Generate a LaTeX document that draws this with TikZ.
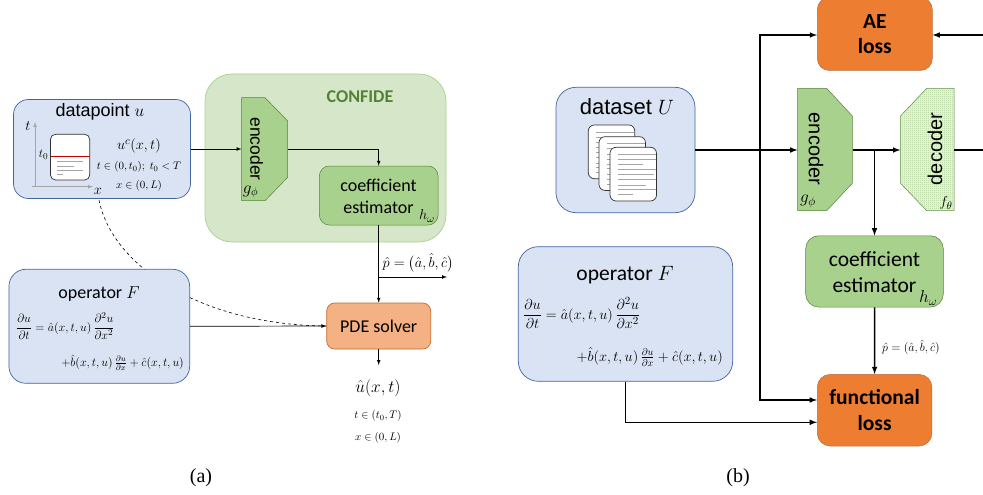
\documentclass[tikz,border=0pt]{standalone}
\usepackage{amsmath}
\usepackage{amssymb}
\usepackage{fontspec}
\setmainfont{Liberation Serif}
\setsansfont{Liberation Sans}
\newfontfamily\calibri{Carlito}
\usepackage{tikz}
\usetikzlibrary{positioning,patterns,backgrounds,arrows}
\definecolor{boxblue}{HTML}{DAE3F3}
\definecolor{edgeblue}{HTML}{41659F}
\definecolor{confidegreen}{HTML}{D5E7C8}
\definecolor{edgegreen}{HTML}{A9D18E}
\definecolor{coefgreen}{HTML}{A9D18E}
\definecolor{darkgreen}{HTML}{548235}
\definecolor{solverorange}{HTML}{F4B183}
\definecolor{edgeorange}{HTML}{C9692B}
\definecolor{lossorange}{HTML}{ED7D31}
\definecolor{paleline}{HTML}{A6A6A6}
\definecolor{redline}{HTML}{C00000}
\definecolor{decoderpale}{HTML}{EEF5E8}
\pgfdeclarepatternformonly{fine dots}{\pgfpointorigin}{\pgfpoint{2pt}{2pt}}{\pgfpoint{2pt}{2pt}}{
    \pgfpathrectangle{\pgfpointorigin}{\pgfpoint{1pt}{1pt}}
    \pgfpathrectangle{\pgfpoint{1pt}{1pt}}{\pgfpoint{1pt}{1pt}}
    \pgfusepath{fill}
}
\begin{document}
\begin{tikzpicture}[x=1pt,y=-1pt]
        \tikzstyle{blue box}=[draw=edgeblue,fill=boxblue,line width=0.7pt,inner sep=0pt]
        \tikzstyle{green box}=[draw=darkgreen,fill=coefgreen,line width=0.5pt,inner sep=0pt]
        \tikzstyle{coder node}=[inner sep=0pt]
        \tikzstyle{title a}=[font=\calibri\fontsize{18}{22}\selectfont,align=center]
        \tikzstyle{title b}=[font=\calibri\fontsize{21.5}{26}\selectfont,align=center]
        \tikzstyle{loss text}=[font=\calibri\bfseries\fontsize{21.5}{25.5}\selectfont,align=center]
        \tikzstyle{coder a}=[font=\sffamily\fontsize{17.5}{20}\selectfont,rotate=-90]
        \tikzstyle{coder b}=[font=\sffamily\fontsize{20}{22}\selectfont,rotate=-90]
        \tikzstyle{small math}=[font=\fontsize{11}{13}\selectfont]
        \tikzstyle{thin arrow}=[draw=black,line width=0.7pt,-latex]
        \tikzstyle{thick arrow}=[draw=black,line width=1.5pt,-latex]
        \tikzstyle{mini page}=[draw=black!80,fill=white,line width=0.7pt,rounded corners=5pt]
        \useasboundingbox (0,0) rectangle (983,495);

        % (a)
        \node[blue box,rounded corners=15pt,minimum width=177pt,minimum height=99pt] (Datapoint) at (102,149) {};
        \node[font=\sffamily\fontsize{18}{20}\selectfont] (DatapointTitle) at (100,112) {datapoint $u$};
        \node[inner sep=0pt,font=\fontsize{14}{16}\selectfont] (AxisT) at (28,126) {$t$};
        \node[inner sep=0pt,font=\fontsize{14}{16}\selectfont] (AxisX) at (98,191) {$x$};
        \coordinate (Origin) at (35,186.7);
        \draw[paleline,line width=0.7pt] (32,186.7) -- (Origin);
        \draw[paleline,line width=0.7pt,-latex] (Origin) -- (35,122);
        \draw[paleline,line width=0.7pt,-latex] (Origin) -- (93,186.7);
        \draw[mini page] (50.5,134.3) rectangle (89.7,180);
        \draw[redline,line width=1.3pt] (50.5,156.7) -- (89.7,156.7);
        \foreach \y/\x in {161.7/82.7,166/74,170/82.7,174/63}
            \draw[paleline,line width=0.7pt] (56.7,\y) -- (\x,\y);
        \node[inner sep=0pt,font=\fontsize{13}{15}\selectfont] (TZero) at (43.5,155) {$t_0$};
        \node[font=\fontsize{15}{17}\selectfont] (UContext) at (139,146) {$u^c(x,t)$};
        \node[small math] (UContextT) at (139,167) {$t\in(0,t_0);\;t_0<T$};
        \node[small math] (UContextX) at (139,186) {$x\in(0,L)$};

        \node[draw=edgegreen,fill=confidegreen,line width=0.7pt,rounded corners=27pt,minimum width=241pt,minimum height=168pt,inner sep=0pt] (Confide) at (325.5,158) {};
        \node[font=\calibri\bfseries\fontsize{18}{20}\selectfont,text=darkgreen] (ConfideTitle) at (360,96.5) {CONFIDE};
        \draw[green box] (241.7,97.7) -- (265,97.7) -- (287.7,121) -- (287.7,177.3) -- (265,200.7) -- (241.7,200.7) -- cycle;
        \node[coder node,minimum width=46pt,minimum height=103pt] (EncoderA) at (264.7,149) {};
        \node[coder a] (EncoderAText) at (256.7,149) {encoder};
        \node[inner sep=0pt,font=\fontsize{16}{18}\selectfont] (GPhiA) at (250.5,192) {$g_\phi$};
        \node[green box,rounded corners=10pt,minimum width=118.7pt,minimum height=59pt] (CoefA) at (378.7,195.5) {};
        \node[title a] (CoefAText) at (378.5,196) {coefficient\\estimator};
        \node[inner sep=0pt,font=\fontsize{15}{17}\selectfont] (HOmegaA) at (427,216) {$h_\omega$};

        \node[draw=edgeorange,fill=solverorange,line width=0.7pt,rounded corners=8pt,minimum width=104pt,minimum height=46pt,inner sep=0pt,title a] (Solver) at (378.7,326) {PDE solver};
        \node[blue box,rounded corners=17pt,minimum width=180.7pt,minimum height=114pt] (OperatorA) at (99.3,326.3) {};
        \node[title a] (OperatorATitle) at (99,294) {operator $F$};
        \node[font=\fontsize{12.5}{15}\selectfont,anchor=west,inner sep=0pt] (EquationA) at (16,326) {$\dfrac{\partial u}{\partial t}=\hat a(x,t,u)\,\dfrac{\partial^2 u}{\partial x^2}$};
        \node[font=\fontsize{12}{14}\selectfont,anchor=east,inner sep=0pt] (EquationB) at (184,363) {$+\hat b(x,t,u)\,\frac{\partial u}{\partial x}+\hat c(x,t,u)$};

        \node[font=\fontsize{16}{18}\selectfont,inner sep=0pt] (UHat) at (378,388) {$\hat u(x,t)$};
        \node[small math,inner sep=0pt,below=19pt of UHat.south,anchor=center] (UHatT) {$t\in(t_0,T)$};
        \node[small math,inner sep=0pt,below=22pt of UHatT.center,anchor=center] (UHatX) {$x\in(0,L)$};
        \coordinate (SolverOut) at (378.7,365);
        \coordinate (POut) at (447,277);
        \coordinate (PBranch) at (378.7,277);
        \node[font=\fontsize{13.5}{16}\selectfont,inner sep=0pt] (PLabelA) at (418,263) {$\hat p=\bigl(\hat a,\hat b,\hat c\bigr)$};
        \node[font=\fontsize{20}{22}\selectfont] (CaptionA) at (201,478) {(a)};

        \draw[thin arrow] (Datapoint.east |- EncoderA.west) -- (EncoderA.west);
        \draw[thin arrow] (EncoderA.east) -| (CoefA.north);
        \draw[thin arrow] (CoefA.south) -- (Solver.north);
        \draw[thin arrow] (PBranch) -- (POut);
        \draw[thin arrow] (Solver.south) -- (SolverOut);
        \draw[thin arrow] (OperatorA.east) -- (Solver.west);
        \begin{scope}[on background layer]
            \draw[black,line width=0.6pt,dashed] (AxisX.south) .. controls (108,265) and (200,325) .. (Solver.west);
        \end{scope}

        % (b)
        \node[blue box,rounded corners=20pt,minimum width=139pt,minimum height=125.4pt] (Dataset) at (625.5,150) {};
        \node[font=\sffamily\fontsize{22}{24}\selectfont] (DatasetTitle) at (627,107) {dataset $U$};
        \foreach \px/\py in {588.3/125,599/136.7,610/147.3}{
            \draw[mini page,rounded corners=6pt] (\px,\py) rectangle +(46.5,53.7);
            \foreach \dy/\dx in {7/38.5,12/38.5,17.5/25,22.5/38.5,27.5/36,32/38.5,38/28,42.5/38.5,47.5/15}
                \draw[paleline,line width=0.7pt] (\px+7.5,\py+\dy) -- +(\dx-0,0);
        }

        \node[draw=edgeorange!70!gray,fill=lossorange,line width=0.5pt,rounded corners=12pt,minimum width=115pt,minimum height=73pt,inner sep=0pt,loss text] (AELoss) at (874.8,-2.5+36.5) {AE\\loss};
        \draw[green box] (797.7,88.3) -- (826.7,88.3) -- (852.3,116) -- (852.3,183.3) -- (826.7,210.7) -- (797.7,210.7) -- cycle;
        \node[coder node,minimum width=54.6pt,minimum height=122.4pt] (EncoderB) at (825,149.5) {};
        \node[coder b] (EncoderBText) at (816,149) {encoder};
        \node[inner sep=0pt,font=\fontsize{17}{19}\selectfont] (GPhiB) at (808,201.7) {$g_\phi$};
        \draw[darkgreen,fill=decoderpale,line width=0.5pt,postaction={pattern=fine dots,pattern color=coefgreen}] (954,88.3) -- (926.7,88.3) -- (900.5,116) -- (900.5,183.3) -- (926.7,210.7) -- (954,210.7) -- cycle;
        \node[coder node,minimum width=53.5pt,minimum height=122.4pt] (DecoderB) at (927.25,149.5) {};
        \node[coder b,rotate=180] (DecoderBText) at (935,149) {decoder};
        \node[inner sep=0pt,font=\fontsize{15}{17}\selectfont] (FTheta) at (946,203) {$f_\theta$};
        \node[green box,rounded corners=13pt,minimum width=137.6pt,minimum height=71.3pt] (CoefB) at (874.5,271.4) {};
        \node[title b] (CoefBText) at (874.5,272) {coefficient\\estimator};
        \node[inner sep=0pt,font=\fontsize{18}{20}\selectfont] (HOmegaB) at (928,298) {$h_\omega$};
        \node[draw=edgeorange!70!gray,fill=lossorange,line width=0.5pt,rounded corners=13pt,minimum width=114.7pt,minimum height=71.7pt,inner sep=0pt,loss text] (FuncLoss) at (874.6,410.2) {functional\\loss};
        \node[blue box,rounded corners=20pt,minimum width=214.4pt,minimum height=134.6pt] (OperatorB) at (625.5,314) {};
        \node[title b] (OperatorBTitle) at (625,275) {operator $F$};
        \node[font=\fontsize{15}{17}\selectfont,anchor=west,inner sep=0pt] (EquationC) at (523,313) {$\dfrac{\partial u}{\partial t}=\hat a(x,t,u)\,\dfrac{\partial^2 u}{\partial x^2}$};
        \node[font=\fontsize{14}{16}\selectfont,anchor=east,inner sep=0pt] (EquationD) at (723,356.7) {$+\hat b(x,t,u)\,\frac{\partial u}{\partial x}+\hat c(x,t,u)$};
        \node[font=\fontsize{13}{15}\selectfont,inner sep=0pt] (PLabelB) at (911,347) {$\hat p=(\hat a,\hat b,\hat c)$};
        \node[font=\fontsize{20}{22}\selectfont] (CaptionB) at (738,478) {(b)};

        \coordinate (Split) at (760,150);
        \coordinate (LatentSplit) at (874.5,150);
        \coordinate (DecoderOut) at (983,150);
        \coordinate (AEIn) at (983,35);
        \coordinate (OperatorDrop) at (625.7,422.3);
        \draw[thick arrow] (Dataset.east |- Split) -- (EncoderB.west |- Split);
        \draw[thick arrow] (EncoderB.east |- Split) -- (DecoderB.west |- Split);
        \draw[line width=1.5pt] (DecoderB.east |- Split) -- (DecoderOut);
        \draw[thick arrow] (AEIn) -- (AELoss.east |- AEIn);
        \draw[thick arrow] (Split) |- (AELoss.west |- AEIn);
        \draw[thick arrow] (Split) |- (FuncLoss.west |- 0,400);
        \draw[thick arrow] (LatentSplit) -- (CoefB.north);
        \draw[thick arrow] (CoefB.south) -- (FuncLoss.north);
        \draw[thick arrow] (OperatorB.south -| OperatorDrop) -- (OperatorDrop) -- (FuncLoss.west |- OperatorDrop);
    \end{tikzpicture}
\end{document}
